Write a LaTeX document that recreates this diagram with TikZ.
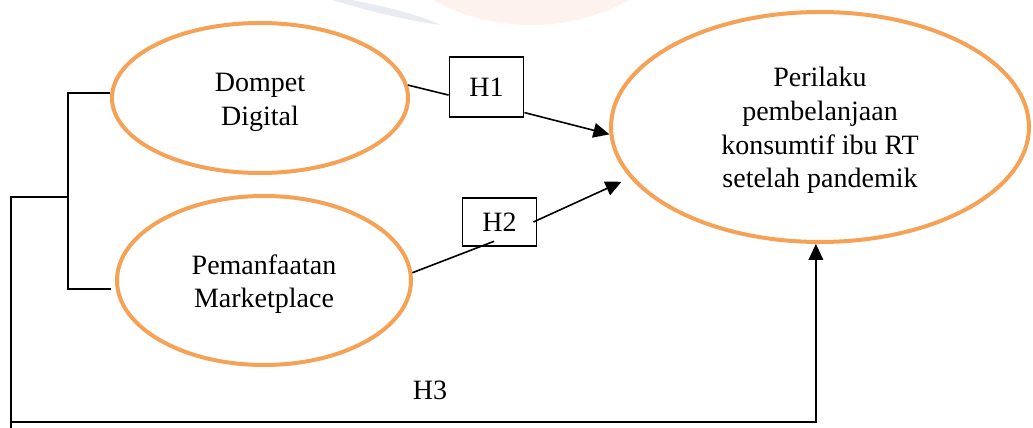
\documentclass[tikz,border=0pt]{standalone}
\usepackage{fontspec}
\setmainfont{Liberation Serif}
\usetikzlibrary{shapes.geometric,arrows.meta}
\definecolor{ovalorange}{RGB}{246,162,86}
\definecolor{wmgrey}{RGB}{232,236,242}
\definecolor{wmpeach}{RGB}{253,242,237}
\newcommand{\dropline}{\rule{0pt}{20pt}}
\tikzset{
  var/.style={ellipse, draw=ovalorange, line width=3pt, inner sep=0pt, align=center},
  hyp/.style={draw, line width=0.9pt, minimum width=56pt, inner sep=0pt},
  link/.style={line width=1.2pt},
  linkarrow/.style={link, -{Triangle[length=12pt,width=11pt]}},
}
\begin{document}
\begin{tikzpicture}[x=0.75pt,y=-0.75pt,font=\fontsize{21}{25.2}\selectfont]
  \clip (0,0) rectangle (1033,428);
  % faint logo in the background
  \fill[wmpeach] (531,-180) circle[radius=205];
  \fill[wmgrey] (332,0) -- (352,0) .. controls (392,8) and (420,15) .. (440,25)
    .. controls (405,20) and (368,11) .. (332,0) -- cycle;

  % variables
  \node[var, minimum width=222pt, minimum height=112.5pt] (dd) at (260,98) {\dropline Dompet\\Digital};
  \node[var, minimum width=220.5pt, minimum height=126.75pt] (pm) at (264,280.5) {\dropline Pemanfaatan\\Marketplace};
  \node[var, minimum width=313.5pt, minimum height=172.5pt] (pr) at (820,127) {\dropline Perilaku\\pembelanjaan\\konsumtif ibu RT\\setelah pandemik};

  % hypotheses
  \node[hyp, minimum height=45pt] (h1) at (486.5,87) {H1};
  \node[hyp, minimum height=36pt] (h2) at (499.5,222) {H2};
  \node (h3) at (430,390) {H3};

  \draw[link] (dd.5) -- (h1.192);
  \draw[linkarrow] (h1.-34) -- (pr.182);
  \draw[link] (pm.3) -- ([xshift=-4pt,yshift=4pt]h2.south);
  \draw[linkarrow, shorten >=7pt] ([xshift=-3pt]h2.east) -- (pr.195);

  \coordinate (fork) at (68,197);
  \coordinate (pmin) at ([shift={(-3pt,-6.4pt)}]pm.west);
  \coordinate (base) at (11,422);
  \draw[link] (dd.178) -| (fork) |- (pmin);
  \draw[linkarrow] (fork) -| (base) -| (pr.268);
  \draw[link] (base) -- ++(0,6);
\end{tikzpicture}
\end{document}
